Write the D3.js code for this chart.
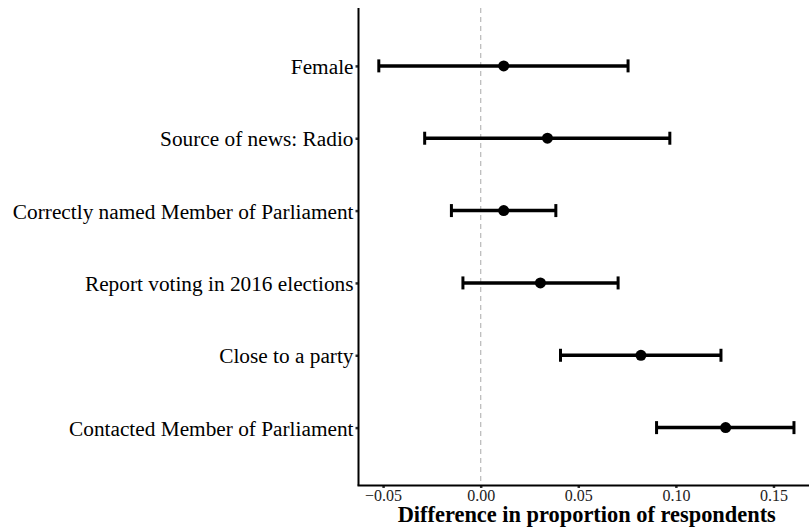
<!DOCTYPE html>
<html>
<head>
<meta charset="utf-8">
<script src="https://cdn.jsdelivr.net/npm/d3@7"></script>
<style>
    body { margin: 0; background: #fff; }
    text { font-family: "Liberation Serif", "Times New Roman", serif; }
</style>
</head>
<body>
<div id="chart"></div>
<script>
    // data, top row first
    const labels = [
        "Female",
        "Source of news: Radio",
        "Correctly named Member of Parliament",
        "Report voting in 2016 elections",
        "Close to a party",
        "Contacted Member of Parliament"
    ];
    const estimate = [0.0118, 0.0342, 0.0118, 0.0306, 0.0821, 0.1255];
    const lower = [-0.0522, -0.0287, -0.0150, -0.0091, 0.0409, 0.0901];
    const upper = [0.0755, 0.0969, 0.0385, 0.0704, 0.1231, 0.1605];
    const xTicks = [-0.05, 0, 0.05, 0.10, 0.15];

    const rows = labels.map((d, i) => ({ label: d, est: estimate[i], lo: lower[i], hi: upper[i] }));

    const width = 809, height = 529;
    const plotL = 358.5, plotR = 809, plotT = 8, plotB = 485.5;

    const svg = d3.select("#chart").append("svg")
        .attr("width", width).attr("height", height);

    const x = d3.scaleLinear().domain([-0.0626, 0.1682]).range([plotL, plotR]);
    const y = d3.scalePoint().domain(labels).range([plotT, plotB]).padding(0.8);

    // zero reference line
    svg.append("line")
        .attr("x1", x(0)).attr("x2", x(0))
        .attr("y1", plotT).attr("y2", plotB)
        .attr("stroke", "#bdbdbd").attr("stroke-width", 1.3)
        .attr("stroke-dasharray", "5,4");

    // error bars
    const g = svg.append("g").selectAll("g").data(rows).join("g");
    g.append("line")
        .attr("x1", d => x(d.lo)).attr("x2", d => x(d.hi))
        .attr("y1", d => y(d.label)).attr("y2", d => y(d.label))
        .attr("stroke", "#000").attr("stroke-width", 3.5);
    g.append("line")
        .attr("x1", d => x(d.lo)).attr("x2", d => x(d.lo))
        .attr("y1", d => y(d.label) - 6.5).attr("y2", d => y(d.label) + 6.5)
        .attr("stroke", "#000").attr("stroke-width", 3);
    g.append("line")
        .attr("x1", d => x(d.hi)).attr("x2", d => x(d.hi))
        .attr("y1", d => y(d.label) - 6.5).attr("y2", d => y(d.label) + 6.5)
        .attr("stroke", "#000").attr("stroke-width", 3);
    g.append("circle")
        .attr("cx", d => x(d.est)).attr("cy", d => y(d.label))
        .attr("r", 5.5).attr("fill", "#000");

    // y axis
    const yAxis = svg.append("g").attr("transform", `translate(${plotL},0)`)
        .call(d3.axisLeft(y).tickSize(3).tickPadding(2));
    yAxis.select(".domain").remove();
    yAxis.selectAll(".tick line").attr("stroke", "#333").attr("stroke-width", 2.5);
    yAxis.selectAll(".tick text")
        .attr("font-size", 21.3)
        .attr("dy", "0.36em")
        .attr("fill", "#000")
        .attr("font-family", "Liberation Serif, serif");
    svg.append("line")
        .attr("x1", plotL).attr("x2", plotL).attr("y1", plotT).attr("y2", plotB)
        .attr("stroke", "#000").attr("stroke-width", 2);

    // x axis
    const xAxis = svg.append("g").attr("transform", `translate(0,${plotB})`)
        .call(d3.axisBottom(x).tickValues(xTicks).tickSize(2.5).tickPadding(2)
            .tickFormat(d3.format(".2f")));
    xAxis.select(".domain").remove();
    xAxis.selectAll(".tick line").attr("stroke", "#333").attr("stroke-width", 2.5);
    xAxis.selectAll(".tick text")
        .attr("font-size", 16)
        .attr("fill", "#222")
        .attr("font-family", "Liberation Serif, serif");
    svg.append("line")
        .attr("x1", plotL - 1).attr("x2", plotR).attr("y1", plotB).attr("y2", plotB)
        .attr("stroke", "#000").attr("stroke-width", 2);

    svg.append("text")
        .attr("x", (plotL + plotR) / 2 + 3).attr("y", 522)
        .attr("text-anchor", "middle")
        .attr("font-size", 22.4).attr("font-weight", "bold")
        .text("Difference in proportion of respondents");
</script>
</body>
</html>
